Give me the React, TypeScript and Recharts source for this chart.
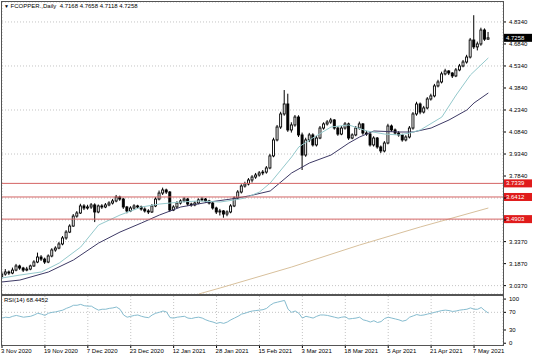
import React from 'react'
import { ComposedChart, LineChart, Bar, Line, XAxis, YAxis, CartesianGrid, ReferenceLine } from 'recharts'

const FONT = 'Liberation Sans, Arial, sans-serif'

const tickBars = [0, 12, 24, 36, 48, 60, 72, 84, 96, 108, 120, 132]
const tickDates = ['3 Nov 2020', '19 Nov 2020', '7 Dec 2020', '23 Dec 2020', '12 Jan 2021', '28 Jan 2021', '15 Feb 2021', '3 Mar 2021', '18 Mar 2021', '5 Apr 2021', '21 Apr 2021', '7 May 2021']

const priceTicks = [3.037, 3.187, 3.337, 3.484, 3.634, 3.784, 3.934, 4.084, 4.234, 4.384, 4.534, 4.684, 4.834]
const hiddenPriceTicks = [3.484, 3.634]
const rsiTicks = [0, 30, 70, 100]
const levelLines = [3.7339, 3.6412, 3.4903]
const lastClose = 4.7258

// daily candles, [open, high, low, close]
const ohlc: [number, number, number, number][] = [
  [3.100, 3.135, 3.085, 3.116], [3.116, 3.150, 3.105, 3.130], [3.130, 3.140, 3.110, 3.123], [3.123, 3.160, 3.115, 3.143],
  [3.143, 3.185, 3.135, 3.171], [3.171, 3.180, 3.145, 3.157], [3.157, 3.165, 3.130, 3.143], [3.143, 3.165, 3.135, 3.150],
  [3.150, 3.180, 3.142, 3.171], [3.171, 3.210, 3.165, 3.198], [3.198, 3.262, 3.190, 3.232], [3.232, 3.245, 3.205, 3.218],
  [3.218, 3.228, 3.185, 3.198], [3.198, 3.250, 3.190, 3.239], [3.239, 3.292, 3.230, 3.280], [3.280, 3.305, 3.268, 3.293],
  [3.293, 3.335, 3.285, 3.321], [3.321, 3.375, 3.312, 3.362], [3.362, 3.415, 3.350, 3.402], [3.402, 3.455, 3.395, 3.443],
  [3.443, 3.525, 3.438, 3.511], [3.511, 3.545, 3.500, 3.532], [3.532, 3.595, 3.525, 3.580], [3.580, 3.592, 3.552, 3.566],
  [3.566, 3.588, 3.555, 3.573], [3.573, 3.600, 3.560, 3.587], [3.587, 3.598, 3.470, 3.539], [3.539, 3.590, 3.530, 3.580],
  [3.580, 3.592, 3.560, 3.573], [3.573, 3.600, 3.565, 3.587], [3.587, 3.612, 3.578, 3.600], [3.600, 3.628, 3.590, 3.614],
  [3.614, 3.655, 3.605, 3.641], [3.641, 3.650, 3.615, 3.627], [3.627, 3.635, 3.560, 3.573], [3.573, 3.580, 3.530, 3.546],
  [3.546, 3.578, 3.538, 3.566], [3.566, 3.592, 3.555, 3.580], [3.580, 3.588, 3.560, 3.573], [3.573, 3.582, 3.548, 3.559],
  [3.559, 3.570, 3.535, 3.546], [3.546, 3.558, 3.525, 3.539], [3.539, 3.592, 3.532, 3.580], [3.580, 3.640, 3.572, 3.627],
  [3.627, 3.685, 3.618, 3.668], [3.668, 3.705, 3.655, 3.689], [3.689, 3.698, 3.662, 3.675], [3.675, 3.682, 3.540, 3.552],
  [3.552, 3.585, 3.545, 3.573], [3.573, 3.612, 3.565, 3.600], [3.600, 3.625, 3.590, 3.614], [3.614, 3.640, 3.605, 3.627],
  [3.627, 3.635, 3.580, 3.593], [3.593, 3.602, 3.575, 3.587], [3.587, 3.612, 3.578, 3.600], [3.600, 3.632, 3.592, 3.621],
  [3.621, 3.640, 3.612, 3.627], [3.627, 3.634, 3.602, 3.614], [3.614, 3.622, 3.590, 3.600], [3.600, 3.608, 3.555, 3.566],
  [3.566, 3.575, 3.525, 3.539], [3.539, 3.560, 3.515, 3.546], [3.546, 3.552, 3.500, 3.525], [3.525, 3.550, 3.510, 3.539],
  [3.539, 3.592, 3.530, 3.580], [3.580, 3.645, 3.572, 3.634], [3.634, 3.688, 3.625, 3.675], [3.675, 3.728, 3.665, 3.716],
  [3.716, 3.745, 3.705, 3.730], [3.730, 3.770, 3.720, 3.757], [3.757, 3.790, 3.740, 3.777], [3.777, 3.805, 3.765, 3.791],
  [3.791, 3.818, 3.780, 3.805], [3.805, 3.825, 3.790, 3.811], [3.811, 3.852, 3.800, 3.839], [3.839, 3.935, 3.830, 3.921],
  [3.921, 4.045, 3.912, 4.030], [4.030, 4.132, 4.020, 4.118], [4.118, 4.222, 4.105, 4.207], [4.207, 4.370, 4.195, 4.275],
  [4.275, 4.345, 4.085, 4.098], [4.098, 4.150, 4.080, 4.132], [4.132, 4.200, 4.120, 4.186], [4.186, 4.198, 4.050, 4.064],
  [4.064, 4.080, 3.825, 3.927], [3.927, 4.045, 3.915, 4.030], [4.030, 4.078, 4.015, 4.064], [4.064, 4.075, 3.985, 3.996],
  [3.996, 4.058, 3.985, 4.043], [4.043, 4.125, 4.035, 4.111], [4.111, 4.150, 4.100, 4.139], [4.139, 4.165, 4.128, 4.152],
  [4.152, 4.180, 4.140, 4.166], [4.166, 4.172, 4.100, 4.111], [4.111, 4.122, 4.058, 4.070], [4.070, 4.125, 4.062, 4.111],
  [4.111, 4.152, 4.100, 4.139], [4.139, 4.148, 4.030, 4.043], [4.043, 4.075, 4.035, 4.064], [4.064, 4.125, 4.055, 4.111],
  [4.111, 4.155, 4.100, 4.139], [4.139, 4.145, 4.065, 4.077], [4.077, 4.092, 4.058, 4.070], [4.070, 4.080, 3.985, 3.996],
  [3.996, 4.055, 3.985, 4.043], [4.043, 4.050, 3.970, 3.982], [3.982, 3.992, 3.940, 3.955], [3.955, 4.022, 3.945, 4.009],
  [4.009, 4.140, 4.000, 4.125], [4.125, 4.135, 4.085, 4.098], [4.098, 4.108, 4.065, 4.077], [4.077, 4.090, 4.052, 4.064],
  [4.064, 4.072, 4.018, 4.030], [4.030, 4.062, 4.020, 4.050], [4.050, 4.125, 4.040, 4.111], [4.111, 4.220, 4.100, 4.207],
  [4.207, 4.290, 4.195, 4.275], [4.275, 4.285, 4.205, 4.220], [4.220, 4.262, 4.210, 4.248], [4.248, 4.322, 4.238, 4.309],
  [4.309, 4.345, 4.298, 4.330], [4.330, 4.412, 4.320, 4.398], [4.398, 4.440, 4.388, 4.425], [4.425, 4.495, 4.415, 4.480],
  [4.480, 4.515, 4.470, 4.500], [4.500, 4.505, 4.472, 4.486], [4.486, 4.492, 4.452, 4.466], [4.466, 4.520, 4.458, 4.507],
  [4.507, 4.548, 4.498, 4.534], [4.534, 4.575, 4.525, 4.561], [4.561, 4.610, 4.550, 4.595], [4.595, 4.725, 4.585, 4.711],
  [4.711, 4.880, 4.650, 4.664], [4.664, 4.700, 4.640, 4.684], [4.684, 4.795, 4.672, 4.779], [4.779, 4.790, 4.705, 4.7168],
  [4.7168, 4.7658, 4.7118, 4.7258],
]

// moving averages: [bar, value]
const maFastPts: [number, number][] = [
  [0, 3.089], [5, 3.109], [11, 3.130], [16, 3.191], [22, 3.300], [27, 3.450], [33, 3.518], [39, 3.573],
  [44, 3.593], [50, 3.607], [55, 3.614], [61, 3.607], [65, 3.621], [68, 3.634], [72, 3.675], [75, 3.736],
  [78, 3.825], [81, 3.914], [83, 3.982], [86, 4.030], [92, 4.118], [97, 4.132], [102, 4.091], [107, 4.070],
  [111, 4.064], [114, 4.077], [117, 4.098], [123, 4.186], [127, 4.336], [131, 4.473], [136, 4.589],
]
const maSlowPts: [number, number][] = [
  [0, 3.062], [5, 3.075], [13, 3.130], [20, 3.212], [27, 3.327], [33, 3.402], [39, 3.464], [44, 3.518],
  [50, 3.573], [58, 3.607], [64, 3.627], [69, 3.648], [75, 3.682], [81, 3.805], [86, 3.873], [92, 3.927],
  [97, 4.009], [100, 4.050], [104, 4.091], [111, 4.084], [115, 4.084], [120, 4.111], [125, 4.166],
  [130, 4.234], [132, 4.282], [136, 4.350],
]
const maLongPts: [number, number][] = [
  [55, 2.980], [61, 3.021], [81, 3.164], [100, 3.314], [117, 3.437], [136, 3.566],
]

const rsi = [
  57, 59, 58, 61, 63, 61, 59, 60, 61, 64, 68, 66, 63, 68, 70, 71, 73, 75, 79, 82,
  86, 86, 88, 85, 84, 84, 79, 75, 77, 77, 79, 80, 82, 77, 64, 59, 61, 63, 64, 61,
  59, 58, 64, 68, 70, 73, 71, 58, 57, 59, 60, 61, 57, 56, 58, 59, 57, 53, 50, 48,
  45, 47, 45, 48, 53, 57, 61, 66, 68, 71, 73, 74, 75, 76, 79, 86, 91, 93, 95, 97,
  77, 70, 73, 68, 57, 61, 59, 57, 61, 64, 64, 63, 61, 59, 57, 59, 60, 55, 56, 57,
  59, 53, 51, 48, 51, 47, 49, 56, 59, 57, 55, 53, 50, 52, 59, 62, 65, 63, 64, 66,
  68, 70, 72, 74, 75, 74, 72, 73, 75, 76, 77, 80, 77, 77, 81, 74, 68.4452,
]

const data: any[] = ohlc.map(([o, h, l, c], i) => ({ i, o, h, l, c, range: [l, h], rsi: rsi[i] }))
maFastPts.forEach(([i, v]) => { data[i].maFast = v })
maSlowPts.forEach(([i, v]) => { data[i].maSlow = v })
maLongPts.forEach(([i, v]) => { data[i].maLong = v })

const xDomain = [0, 140.1]

const Candle = (props: any) => {
  const { x, y, width, height, payload } = props
  const { o, h, l, c } = payload
  const cx = x + width / 2
  const k = height / (h - l)
  const yo = y + (h - o) * k
  const yc = y + (h - c) * k
  const top = Math.min(yo, yc)
  const bh = Math.max(Math.abs(yo - yc), 0.8)
  const up = c >= o
  return (
    <g>
      <line x1={cx} x2={cx} y1={y} y2={y + height} stroke='#000' strokeWidth={1} />
      <rect x={cx - 1} y={top} width={2} height={bh} fill={up ? '#fff' : '#000'} stroke='#000' strokeWidth={0.9} />
    </g>
  )
}

const badge = (bg: string, text: string) => (props: any) => {
  const vb = props.viewBox
  const x = vb.x + vb.width + 1
  const y = vb.y
  return (
    <g>
      <rect x={x} y={y - 4} width={28} height={8} fill={bg} />
      <text x={x + 2} y={y} dy='0.35em' fontSize={6} fontFamily={FONT} fill='#fff'>{text}</text>
    </g>
  )
}

const DateTick = (props: any) => {
  const { x, y, payload } = props
  const idx = tickBars.indexOf(payload.value)
  return (
    <text x={x - 1} y={y} dy='0.71em' textAnchor='start' fontSize={6} fontFamily={FONT} fill='#000'>
      {tickDates[idx]}
    </text>
  )
}

const tickStyle = { fontSize: 6, fill: '#000', fontFamily: FONT }

export default function App() {
  return (
    <div style={{ position: 'absolute', left: 0, top: 0, width: 536, height: 357, background: '#fff', overflow: 'hidden' }}>
      <div style={{ position: 'absolute', left: 0, top: 0 }}>
        <ComposedChart width={536} height={296} data={data} margin={{ top: 2, right: 0, bottom: 2, left: 2 }}>
          <CartesianGrid stroke='#c4c4c4' strokeDasharray='1 2' />
          <XAxis dataKey='i' type='number' domain={xDomain} ticks={tickBars} height={0} tick={false} axisLine={false} tickLine={false} allowDataOverflow />
          <YAxis orientation='right' domain={[2.98, 4.97]} ticks={priceTicks} allowDataOverflow width={33}
            tickSize={3} tickMargin={3} axisLine={false} tickLine={{ stroke: '#000' }} tick={tickStyle}
            tickFormatter={(v: number) => (hiddenPriceTicks.includes(v) ? '' : v.toFixed(4))} />
          <Line dataKey='maLong' stroke='#d8c09c' strokeWidth={1} dot={false} connectNulls isAnimationActive={false} />
          <Line dataKey='maSlow' stroke='#3e3a66' strokeWidth={1} dot={false} connectNulls isAnimationActive={false} />
          <Line dataKey='maFast' stroke='#94c9cc' strokeWidth={1} dot={false} connectNulls isAnimationActive={false} />
          {levelLines.map(v => (
            <ReferenceLine key={v} y={v} stroke='#d46464' strokeWidth={1} label={badge('#e01b1b', v.toFixed(4))} />
          ))}
          <ReferenceLine y={lastClose} stroke='none' label={badge('#000', lastClose.toFixed(4))} />
          <Bar dataKey='range' barSize={3} isAnimationActive={false} shape={(p: any) => <Candle {...p} />} />
        </ComposedChart>
      </div>
      <div style={{ position: 'absolute', left: 0, top: 296 }}>
        <LineChart width={536} height={61} data={data} margin={{ top: 0, right: 0, bottom: 0, left: 2 }}>
          <CartesianGrid stroke='#c4c4c4' strokeDasharray='1 2' horizontalValues={[30, 70]} />
          <XAxis dataKey='i' type='number' domain={xDomain} ticks={tickBars} height={12} interval={0}
            tickSize={3} tickMargin={1} axisLine={false} tickLine={{ stroke: '#000' }} tick={<DateTick />} allowDataOverflow />
          <YAxis orientation='right' domain={[-4, 107]} ticks={rsiTicks} allowDataOverflow width={33}
            tickSize={3} tickMargin={3} axisLine={false} tickLine={{ stroke: '#000' }} tick={tickStyle} />
          <Line dataKey='rsi' stroke='#86bccf' strokeWidth={1} dot={false} isAnimationActive={false} />
        </LineChart>
      </div>
      <div style={{ position: 'absolute', left: 1, top: 1, width: 503, height: 294, border: '1px solid #555', boxSizing: 'border-box', pointerEvents: 'none' }} />
      <div style={{ position: 'absolute', left: 1, top: 294, width: 503, height: 2, background: '#555' }} />
      <div style={{ position: 'absolute', left: 1, top: 295, width: 503, height: 51, border: '1px solid #555', boxSizing: 'border-box', pointerEvents: 'none' }} />
      <div style={{ position: 'absolute', left: 4, top: 2, fontSize: 6, lineHeight: '8px', fontFamily: FONT, color: '#000', whiteSpace: 'nowrap' }}>
        <span style={{ fontSize: 5 }}>▼</span> FCOPPER.,Daily&nbsp; 4.7168 4.7658 4.7118 4.7258
      </div>
      <div style={{ position: 'absolute', left: 4, top: 296, fontSize: 6, lineHeight: '8px', fontFamily: FONT, color: '#000', whiteSpace: 'nowrap' }}>
        RSI(14) 68.4452
      </div>
    </div>
  )
}
